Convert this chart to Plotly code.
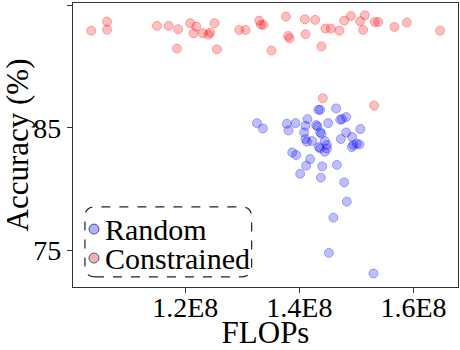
import plotly.graph_objects as go

# FLOPs in units of 1e8, accuracy in %
random_flops = [
    1.3256, 1.3361, 1.3781, 1.3809, 1.3932, 1.3874, 1.3944, 1.4014, 1.4119, 1.4189,
    1.4084, 1.4107, 1.4142, 1.4107, 1.4131, 1.4224, 1.4294, 1.4317, 1.4364, 1.4387,
    1.4342, 1.4364, 1.4447, 1.4482, 1.4482, 1.4447, 1.4334, 1.4364, 1.4644, 1.4504,
    1.4715, 1.4750, 1.4820, 1.5070, 1.4820, 1.4727, 1.4925, 1.4947, 1.5007, 1.5053,
    1.4919, 1.4399, 1.4657, 1.4377, 1.4785, 1.4832, 1.4597, 1.4517, 1.5298,
]
random_acc = [
    85.38, 84.94, 85.33, 84.78, 85.38, 82.98, 82.77, 81.24, 81.90, 82.44,
    84.62, 85.16, 85.71, 84.08, 83.86, 83.91, 85.22, 85.11, 84.62, 84.51,
    83.42, 83.31, 83.91, 83.59, 83.31, 83.04, 86.47, 86.47, 86.58, 85.38,
    85.65, 85.71, 85.87, 84.89, 84.62, 84.08, 84.24, 83.59, 83.69, 83.64,
    83.42, 81.84, 81.96, 80.92, 80.53, 78.96, 77.65, 74.77, 73.08,
]

constrained_flops = [
    1.0354, 1.0629, 1.0629, 1.1504, 1.1708, 1.1877, 1.1855, 1.2088, 1.2193, 1.2145,
    1.2310, 1.2408, 1.2438, 1.2513, 1.2555, 1.2946, 1.3056, 1.3296, 1.3326, 1.3371,
    1.3511, 1.3764, 1.3804, 1.3827, 1.4096, 1.4107, 1.4277, 1.4387, 1.4457, 1.4552,
    1.4702, 1.4785, 1.4902, 1.5065, 1.5117, 1.5147, 1.5322, 1.5380, 1.5665, 1.5883,
    1.6466, 1.4411, 1.5310,
]
constrained_acc = [
    92.94, 93.68, 93.02, 93.33, 93.33, 93.06, 91.47, 93.55, 93.27, 92.73,
    92.73, 92.62, 92.78, 93.55, 91.42, 93.00, 93.00, 93.76, 93.43, 93.41,
    91.31, 94.09, 92.51, 92.32, 93.87, 92.65, 93.82, 91.64, 93.11, 93.11,
    92.94, 93.76, 94.14, 93.71, 93.00, 94.20, 93.65, 93.65, 93.24, 93.60,
    92.94, 87.42, 86.82,
]

series_names = ["Random", "Constrained"]
legend_fill = ["#b0b0fb", "#fbb0b0"]

x_tickvals = [1.2e8, 1.4e8, 1.6e8]
x_ticktext = ["1.2E8", "1.4E8", "1.6E8"]
y_tickvals = [75, 85, 95]

FONT = "Liberation Serif"

fig = go.Figure()
fig.add_trace(go.Scatter(
    x=[v * 1e8 for v in random_flops], y=random_acc, mode="markers", name="Random",
    marker=dict(size=9, color="rgba(0,0,255,0.25)",
                line=dict(color="rgba(0,0,255,0.3)", width=1)),
    showlegend=False,
))
fig.add_trace(go.Scatter(
    x=[v * 1e8 for v in constrained_flops], y=constrained_acc, mode="markers",
    name="Constrained",
    marker=dict(size=9, color="rgba(255,0,0,0.25)",
                line=dict(color="rgba(255,0,0,0.3)", width=1)),
    showlegend=False,
))

# hand-drawn legend: dashed rounded frame, circles and labels
x0, x1, y0, y1 = 0.031, 0.464, 0.036, 0.282
rx, ry = 0.026, 0.036
path = (f"M {x0+rx},{y0} L {x1-rx},{y0} Q {x1},{y0} {x1},{y0+ry} "
        f"L {x1},{y1-ry} Q {x1},{y1} {x1-rx},{y1} L {x0+rx},{y1} "
        f"Q {x0},{y1} {x0},{y1-ry} L {x0},{y0+ry} Q {x0},{y0} {x0+rx},{y0} Z")
fig.add_shape(type="path", path=path, xref="paper", yref="paper",
              line=dict(color="#222", width=1.2, dash="dash"))

for i, (name, fill) in enumerate(zip(series_names, legend_fill)):
    yc = 0.204 - i * 0.102
    fig.add_shape(type="circle", xref="paper", yref="paper",
                  xsizemode="pixel", ysizemode="pixel",
                  xanchor=0.0545, yanchor=yc, x0=-5, x1=5, y0=-5, y1=5,
                  fillcolor=fill, line=dict(color="#4a5a8a", width=1))
    fig.add_annotation(text=name, xref="paper", yref="paper", x=0.077, y=yc,
                       xanchor="left", yanchor="middle", showarrow=False,
                       height=28, valign="middle",
                       font=dict(family=FONT, size=30, color="black"))

axis_common = dict(
    showline=True, linecolor="#333", linewidth=1.2, mirror=True,
    ticks="outside", ticklen=5, tickcolor="#333", showgrid=False, zeroline=False,
    tickfont=dict(family=FONT, size=28, color="black"), automargin=False,
)
fig.update_xaxes(range=[1.0033e8, 1.678e8], tickvals=x_tickvals, ticktext=x_ticktext,
                 ticklabelstandoff=-10,
                 title=dict(text="FLOPs", font=dict(family=FONT, size=31, color="black"),
                            standoff=2),
                 **axis_common)
fig.update_yaxes(range=[71.98, 95.2], tickvals=y_tickvals,
                 title=dict(text="Accuracy (%)", font=dict(family=FONT, size=31, color="black"),
                            standoff=16),
                 **axis_common)

fig.update_layout(
    width=460, height=350,
    margin=dict(l=73, r=2, t=3, b=63),
    plot_bgcolor="white", paper_bgcolor="white",
    font=dict(family=FONT, size=28, color="black"),
    showlegend=False,
)

fig.write_html("out.html", config={"displayModeBar": False},
               post_script="document.body.style.margin='0';")
